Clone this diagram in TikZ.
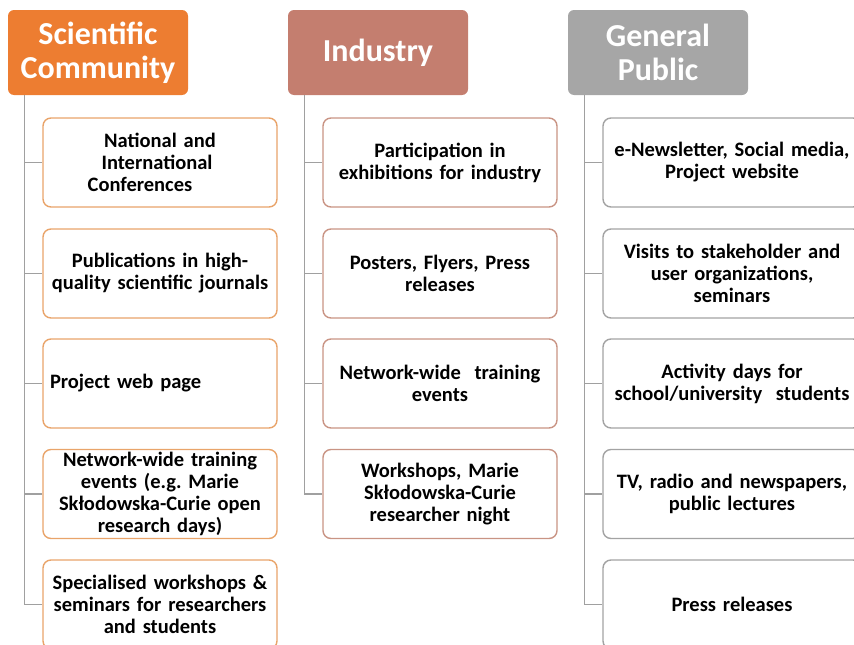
\documentclass[tikz,border=0pt]{standalone}
\usepackage{fontspec}
\setmainfont{Carlito}
\definecolor{sciorange}{HTML}{ED7D31}
\definecolor{sciedge}{HTML}{E9A46A}
\definecolor{indrose}{HTML}{C47E6F}
\definecolor{indedge}{HTML}{C99484}
\definecolor{pubgray}{HTML}{A6A6A6}
\definecolor{pubedge}{HTML}{A3A3A3}
\definecolor{linkgray}{HTML}{A0A0A0}
\begin{document}
\begin{tikzpicture}[x=1pt,y=-1pt,
    head/.style={rounded corners=6pt, minimum width=180pt, minimum height=85pt,
        text=white, align=center, font=\bfseries\fontsize{32}{34}\selectfont},
    item/.style={draw, line width=1.4pt, fill=white, rounded corners=8pt,
        minimum width=234pt, minimum height=89pt, text width=228pt, align=center,
        inner sep=2pt, font=\bfseries\fontsize{20.5}{22}\selectfont},
    wide/.style={minimum width=258pt, text width=252pt},
    link/.style={linkgray, line width=1.3pt}]
    \useasboundingbox (0,0) rectangle (854,645);

    % headers
    \node[head, fill=sciorange] (sci) at (98,52.5) {Scientific\\Community};
    \node[head, fill=indrose] (ind) at (378,52.5) {Industry};
    \node[head, fill=pubgray] (pub) at (658,52.5) {General\\Public};

    % scientific community
    \node[item, draw=sciedge] (s1) at (160,162.5) {National and\\International\rule{6pt}{0pt}\\Conferences\rule{40pt}{0pt}};
    \node[item, draw=sciedge] (s2) at (160,273.5) {Publications in high-\\quality scientific journals};
    \node[item, draw=sciedge, align=left] (s3) at (160,383.5) {\hspace*{4pt}Project web page};
    \node[item, draw=sciedge] (s4) at (160,494) {Network-wide training\\events (e.g.\ Marie\\Skłodowska-Curie open\\research days)};
    \node[item, draw=sciedge] (s5) at (160,604.5) {Specialised workshops \&\\seminars for researchers\\and students};

    % industry
    \node[item, draw=indedge] (i1) at (440,162.5) {Participation in\\exhibitions for industry};
    \node[item, draw=indedge] (i2) at (440,273.5) {Posters, Flyers, Press\\releases};
    \node[item, draw=indedge] (i3) at (440,383.5) {Network-wide\ \ training\\events};
    \node[item, draw=indedge] (i4) at (440,494) {Workshops, Marie\\Skłodowska-Curie\\researcher night};

    % general public
    \node[item, wide, draw=pubedge] (p1) at (732,162.5) {e-Newsletter, Social media,\\Project website};
    \node[item, wide, draw=pubedge] (p2) at (732,273.5) {Visits to stakeholder and\\user organizations,\\seminars};
    \node[item, wide, draw=pubedge] (p3) at (732,383.5) {Activity days for\\school/university\ \ students};
    \node[item, wide, draw=pubedge] (p4) at (732,494) {TV, radio and newspapers,\\public lectures};
    \node[item, wide, draw=pubedge] (p5) at (732,604.5) {Press releases};

    % connectors
    \foreach \h/\c in {sci/s1, sci/s2, sci/s3, sci/s4, sci/s5,
                       ind/i1, ind/i2, ind/i3, ind/i4,
                       pub/p1, pub/p2, pub/p3, pub/p4, pub/p5} {
        \draw[link] ([xshift=17pt]\h.south west) |- (\c.west);
    }
\end{tikzpicture}
\end{document}
